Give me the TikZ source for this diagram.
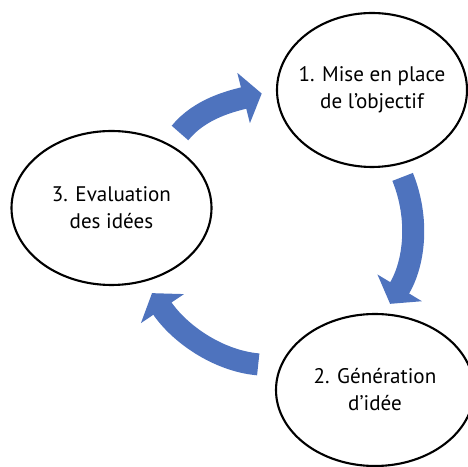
\documentclass[tikz,border=0pt]{standalone}
\usepackage{fontspec}
\setmainfont{PT Sans}
\usepackage{tikz}
\usetikzlibrary{shapes.geometric,arrows.meta}
\definecolor{cycblue}{HTML}{4E73BE}
\tikzset{
  phase/.style={draw, ellipse, line width=1.8pt, align=center,
                inner xsep=-5mm, inner ysep=0pt,
                font=\fontsize{18}{23}\selectfont},
  cyc/.style={draw=cycblue, line width=6.6mm,
              -{Triangle[width=15.3mm, length=5.6mm]}},
}

\begin{document}
\begin{tikzpicture}
  \useasboundingbox (0,0) rectangle (14.04,13.98);
  \node[phase, minimum width=57mm, minimum height=46.2mm] (obj) at (11.16,11.28)
    {1. Mise en place\\de l’objectif};
  \node[phase, minimum width=59.4mm, minimum height=45.6mm] (gen) at (11.25,2.28)
    {2. Génération\\d’idée};
  \node[phase, minimum width=60mm, minimum height=46.2mm] (eval) at (3.345,7.74)
    {3. Evaluation\\des idées};
  \draw[cyc, shorten <=4.5mm, shorten >=4.4mm] (eval.47) to[out=51, in=194] (obj.180);
  \draw[cyc, shorten <=3.8mm, shorten >=3.3mm] (obj.289) to[out=-68, in=59] (gen.83);
  \draw[cyc, shorten <=6.5mm, shorten >=4.1mm] (gen.166) to[out=175, in=-56] (eval.294);
\end{tikzpicture}
\end{document}
